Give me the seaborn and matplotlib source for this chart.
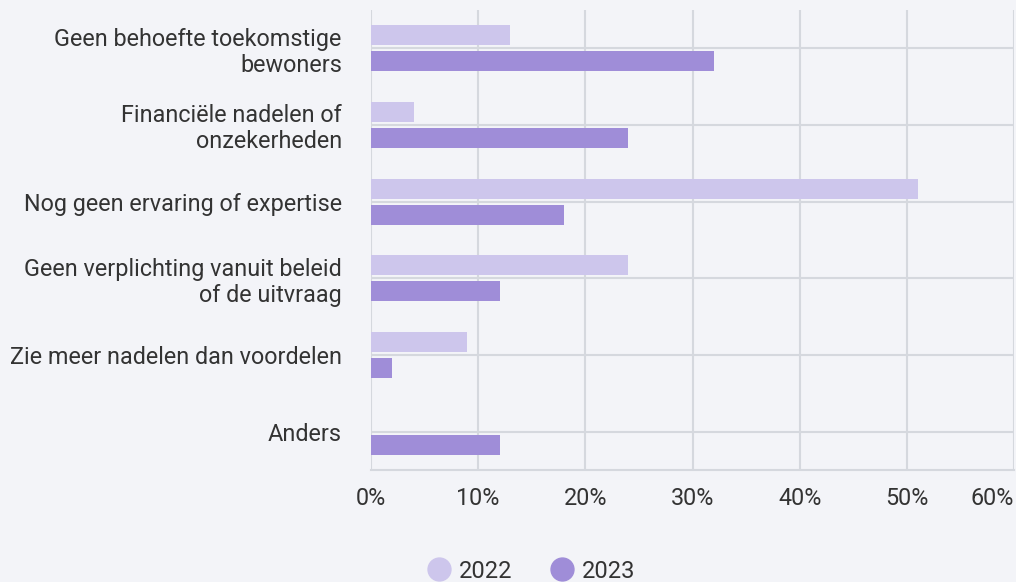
import matplotlib
matplotlib.use("Agg")
import matplotlib.pyplot as plt
import seaborn as sns
import pandas as pd
from matplotlib.lines import Line2D
from matplotlib.ticker import FuncFormatter

categories = [
    "Geen behoefte toekomstige\nbewoners",
    "Financiële nadelen of\nonzekerheden",
    "Nog geen ervaring of expertise",
    "Geen verplichting vanuit beleid\nof de uitvraag",
    "Zie meer nadelen dan voordelen",
    "Anders",
]
values_2022 = [13, 4, 51, 24, 9, 0]
values_2023 = [32, 24, 18, 12, 2, 12]
series = ["2022", "2023"]
colors = ["#cdc6ec", "#9f8dd8"]
xticks = [0, 10, 20, 30, 40, 50, 60]

df = pd.DataFrame({
    "cat": categories * 2,
    "val": values_2022 + values_2023,
    "year": [series[0]] * len(categories) + [series[1]] * len(categories),
})

sns.set_theme(style="white")
plt.rcParams["font.family"] = ["Roboto", "DejaVu Sans"]

bg = "#f3f4f8"
grid = "#d5d8de"
txt = "#333333"

fig = plt.figure(figsize=(10.16, 5.82), dpi=100, facecolor=bg)
ax = fig.add_axes([371 / 1016, 1 - 470 / 582, (1014 - 371) / 1016, 460 / 582])
ax.set_facecolor(bg)

sns.barplot(data=df, y="cat", x="val", hue="year", palette=colors,
            orient="h", width=0.68, gap=0.24, ax=ax, legend=False,
            saturation=1, linewidth=0, zorder=3)

ax.set_xlim(0, 60)
ax.set_xticks(xticks)
ax.xaxis.set_major_formatter(FuncFormatter(lambda v, p: f"{int(v)}%"))
ax.grid(True, axis="both", color=grid, linewidth=1.5, zorder=0)
ax.set_axisbelow(True)
for s in ["top", "right", "left"]:
    ax.spines[s].set_visible(False)
ax.spines["bottom"].set_color(grid)
ax.spines["bottom"].set_linewidth(1.5)
ax.tick_params(axis="y", length=0, labelsize=16.8, colors=txt, pad=21)
ax.tick_params(axis="x", length=0, labelsize=16.8, colors=txt, pad=12)
ax.set_xlabel("")
ax.set_ylabel("")
for lab in ax.get_yticklabels():
    lab.set_horizontalalignment("right")
    lab.set_multialignment("right")
    lab.set_linespacing(1.15)
xlabs = ax.get_xticklabels()
xlabs[-1].set_horizontalalignment("right")

handles = [Line2D([], [], marker="o", linestyle="", markersize=16.5,
                  markerfacecolor=c, markeredgecolor=c) for c in colors]
fig.legend(handles, series, loc="center", bbox_to_anchor=(531 / 1016, 1 - 571 / 582),
           ncol=2, frameon=False, fontsize=17, labelcolor=txt,
           handlelength=1.0, handletextpad=0.35, columnspacing=1.6)

fig.savefig("out.png", dpi=100, facecolor=bg)
